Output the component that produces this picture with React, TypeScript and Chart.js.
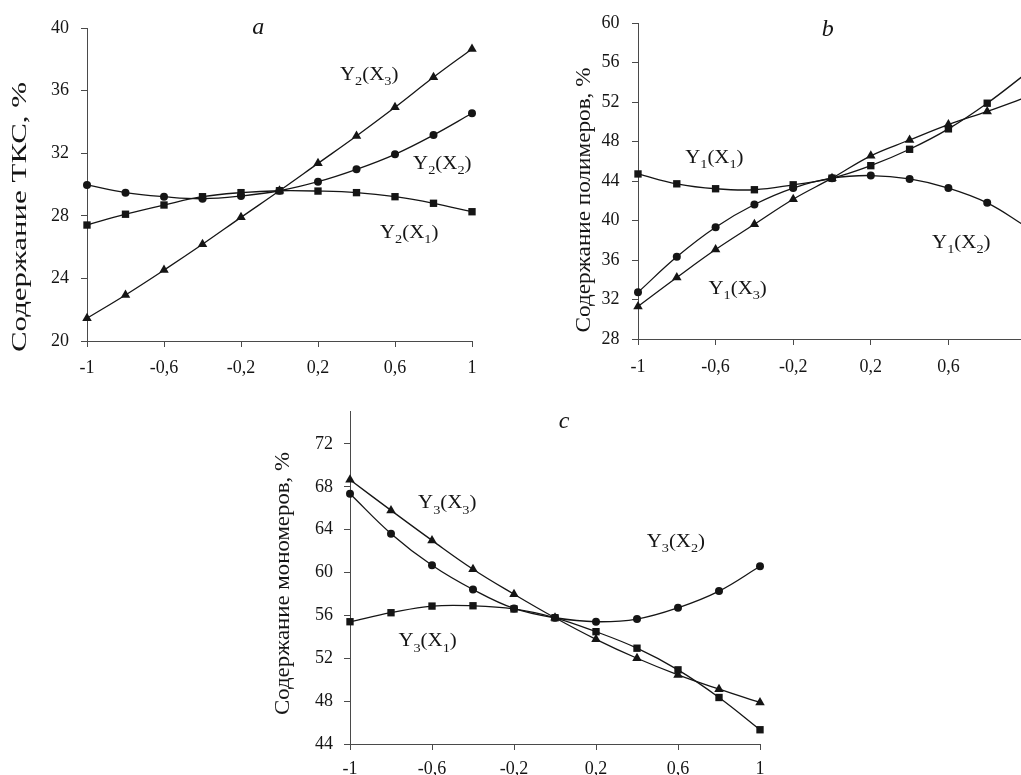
import React, { useEffect, useRef } from 'react';
import { Chart, registerables } from 'chart.js';

Chart.register(...registerables);

// ---------- data ----------
const X_VALUES = [-1, -0.8, -0.6, -0.4, -0.2, 0, 0.2, 0.4, 0.6, 0.8, 1];

// panel a: Содержание ТКС
const A_Y2_X1 = [27.41, 28.1, 28.69, 29.22, 29.48, 29.6, 29.58, 29.48, 29.22, 28.8, 28.26];
const A_Y2_X2 = [29.97, 29.48, 29.22, 29.09, 29.26, 29.6, 30.18, 30.97, 31.93, 33.16, 34.55];
const A_Y2_X3 = [21.45, 22.94, 24.53, 26.18, 27.9, 29.6, 31.35, 33.1, 34.93, 36.85, 38.66];

// panel b: Содержание полимеров
const B_Y1_X1 = [44.73, 43.73, 43.23, 43.13, 43.63, 44.3, 45.57, 47.23, 49.3, 51.9, 54.9];
const B_Y1_X2 = [32.73, 36.33, 39.33, 41.63, 43.3, 44.3, 44.57, 44.23, 43.3, 41.8, 39.4];
const B_Y1_X3 = [31.3, 34.23, 37.07, 39.63, 42.17, 44.3, 46.57, 48.17, 49.73, 51.07, 52.5];

// panel c: Содержание мономеров
const C_Y3_X1 = [55.41, 56.25, 56.87, 56.9, 56.6, 55.78, 54.48, 52.94, 50.92, 48.34, 45.33];
const C_Y3_X2 = [67.35, 63.63, 60.68, 58.42, 56.65, 55.78, 55.41, 55.66, 56.71, 58.27, 60.59];
const C_Y3_X3 = [68.65, 65.8, 63.0, 60.31, 57.98, 55.78, 53.77, 52.0, 50.45, 49.12, 47.88];

// axis ranges / titles
const A_Y_RANGE = [20, 40];
const B_Y_RANGE = [28, 60];
const C_Y_RANGE = [44, 75];
const Y_STEP = 4;
const X_STEP = 0.4;
const A_TITLE = 'Содержание ТКС, %';
const B_TITLE = 'Содержание полимеров, %';
const C_TITLE = 'Содержание мономеров, %';

// curve labels: [Y index, X index, x, y] (data coordinates)
const A_LABELS: [string, string, number, number][] = [
  ['2', '3', 0.314, 37.1],
  ['2', '2', 0.694, 31.4],
  ['2', '1', 0.522, 27.0],
];
const B_LABELS: [string, string, number, number][] = [
  ['1', '1', -0.757, 46.5],
  ['1', '2', 0.516, 37.9],
  ['1', '3', -0.637, 33.2],
];
const C_LABELS: [string, string, number, number][] = [
  ['3', '3', -0.668, 66.57],
  ['3', '2', 0.447, 63.0],
  ['3', '1', -0.764, 53.7],
];
// panel letters: [letter, x, y]
const A_LETTER: [string, number, number] = ['a', -0.11, 40.05];
const B_LETTER: [string, number, number] = ['b', -0.022, 59.32];
const C_LETTER: [string, number, number] = ['c', 0.044, 74.07];

// ---------- styles ----------
const SERIF = '"Liberation Serif", "Times New Roman", serif';
const INK = '#151515';
const AXIS = '#4a4a4a';

type PanelSpec = {
  left: number; top: number; w: number; h: number;
  pad: { left: number; top: number; right: number; bottom: number };
  yW: number; xH: number; xPad: number; yPad: number;
  yRange: number[];
  series: number[][];
  labels: [string, string, number, number][];
  letter: [string, number, number];
  title: string; titleCx: number; titleCy: number; titleLen: number;
};

function fmtTick(v: number) {
  const r = Math.round(v * 10) / 10;
  return String(r).replace('.', ',');
}

function drawSubLabel(ctx: CanvasRenderingContext2D, px: number, py: number, ys: string, xs: string) {
  const size = 19;
  const sx = 1.1;
  const big = `${size}px ${SERIF}`;
  const small = `${Math.round(size * 0.66)}px ${SERIF}`;
  const parts: [string, string, number][] = [
    ['Y', big, 0],
    [ys, small, size * 0.28],
    ['(X', big, 0],
    [xs, small, size * 0.28],
    [')', big, 0],
  ];
  ctx.save();
  ctx.translate(px, py + size * 0.33);
  ctx.scale(sx, 1);
  ctx.fillStyle = INK;
  ctx.textBaseline = 'alphabetic';
  ctx.textAlign = 'left';
  let cx = 0;
  for (const [t, f, dy] of parts) {
    ctx.font = f;
    ctx.fillText(t, cx, dy);
    cx += ctx.measureText(t).width;
  }
  ctx.restore();
}

function makeTextPlugin(spec: PanelSpec) {
  return {
    id: 'panelText',
    afterDatasetsDraw(chart: any) {
      const { ctx, scales } = chart;
      const xs = scales.x;
      const ysc = scales.y;
      for (const [yi, xi, lx, ly] of spec.labels) {
        drawSubLabel(ctx, xs.getPixelForValue(lx), ysc.getPixelForValue(ly), yi, xi);
      }
      const [letter, gx, gy] = spec.letter;
      ctx.save();
      ctx.font = `italic 24px ${SERIF}`;
      ctx.fillStyle = INK;
      ctx.textAlign = 'center';
      ctx.textBaseline = 'middle';
      ctx.fillText(letter, xs.getPixelForValue(gx), ysc.getPixelForValue(gy));
      ctx.restore();
      ctx.save();
      ctx.font = `20px ${SERIF}`;
      const w = ctx.measureText(spec.title).width;
      ctx.translate(spec.titleCx, spec.titleCy);
      ctx.rotate(-Math.PI / 2);
      ctx.scale(spec.titleLen / w, 1);
      ctx.fillStyle = INK;
      ctx.textAlign = 'center';
      ctx.textBaseline = 'middle';
      ctx.fillText(spec.title, 0, 0);
      ctx.restore();
    },
  };
}

const STYLES = ['rect', 'circle', 'triangle'];
const RADII = [5.2, 4, 5.5];

function Panel({ spec }: { spec: PanelSpec }) {
  const ref = useRef<HTMLCanvasElement>(null);
  useEffect(() => {
    let chart: Chart | null = null;
    let cancelled = false;
    const build = () => {
      if (cancelled || !ref.current) return;
      const datasets = spec.series.map((vals, i) => ({
        label: `s${i}`,
        data: X_VALUES.map((x, j) => ({ x, y: vals[j] })),
        borderColor: INK,
        backgroundColor: INK,
        borderWidth: 1.3,
        pointStyle: STYLES[i] as any,
        pointRadius: RADII[i],
        pointBackgroundColor: INK,
        pointBorderColor: INK,
        pointBorderWidth: 0,
        tension: 0.4,
        clip: false as any,
      }));
      const tickFont = { family: SERIF, size: 18 };
      chart = new Chart(ref.current, {
        type: 'line',
        data: { datasets },
        plugins: [makeTextPlugin(spec)],
        options: {
          animation: false,
          responsive: false,
          devicePixelRatio: 1,
          layout: { padding: spec.pad },
          plugins: { legend: { display: false }, tooltip: { enabled: false } },
          scales: {
            x: {
              type: 'linear',
              min: -1,
              max: 1,
              ticks: {
                stepSize: X_STEP,
                callback: (v: any) => fmtTick(Number(v)),
                font: tickFont,
                color: INK,
                padding: spec.xPad,
                maxRotation: 0,
                autoSkip: false,
              },
              grid: { drawOnChartArea: false, drawTicks: true, tickLength: 6, color: AXIS, lineWidth: 1 },
              border: { color: AXIS, width: 1 },
              afterFit: (s: any) => { s.height = spec.xH; },
            },
            y: {
              type: 'linear',
              min: spec.yRange[0],
              max: spec.yRange[1],
              ticks: {
                stepSize: Y_STEP,
                includeBounds: false,
                font: tickFont,
                color: INK,
                padding: spec.yPad,
                callback: (v: any) => String(v),
              } as any,
              grid: { drawOnChartArea: false, drawTicks: true, tickLength: 6, color: AXIS, lineWidth: 1 },
              border: { color: AXIS, width: 1 },
              afterFit: (s: any) => { s.width = spec.yW; },
            },
          },
        } as any,
      });
    };
    const fonts = (document as any).fonts;
    if (fonts && fonts.load) {
      Promise.all([
        fonts.load(`20px "Liberation Serif"`),
        fonts.load(`italic 24px "Liberation Serif"`),
      ]).then(build, build);
    } else {
      build();
    }
    return () => {
      cancelled = true;
      if (chart) chart.destroy();
    };
  }, [spec]);
  return (
    <canvas
      ref={ref}
      width={spec.w}
      height={spec.h}
      style={{ position: 'absolute', left: spec.left, top: spec.top, width: spec.w, height: spec.h }}
    />
  );
}

const PANEL_A: PanelSpec = {
  left: 0, top: 0, w: 500, h: 390,
  pad: { left: 0, top: 28, right: 28, bottom: 0 },
  yW: 87, xH: 49, xPad: 10, yPad: 12,
  yRange: A_Y_RANGE,
  series: [A_Y2_X1, A_Y2_X2, A_Y2_X3],
  labels: A_LABELS,
  letter: A_LETTER,
  title: A_TITLE, titleCx: 20.5, titleCy: 217, titleLen: 270,
};

const PANEL_B: PanelSpec = {
  left: 540, top: 0, w: 520, h: 390,
  pad: { left: 0, top: 19, right: 34, bottom: 0 },
  yW: 98, xH: 51, xPad: 11.5, yPad: 12.5,
  yRange: B_Y_RANGE,
  series: [B_Y1_X1, B_Y1_X2, B_Y1_X3],
  labels: B_LABELS,
  letter: B_LETTER,
  title: B_TITLE, titleCx: 45, titleCy: 200, titleLen: 265,
};

const PANEL_C: PanelSpec = {
  left: 240, top: 390, w: 560, h: 400,
  pad: { left: 0, top: 20, right: 40, bottom: 0 },
  yW: 110, xH: 46, xPad: 8.5, yPad: 11,
  yRange: C_Y_RANGE,
  series: [C_Y3_X1, C_Y3_X2, C_Y3_X3],
  labels: C_LABELS,
  letter: C_LETTER,
  title: C_TITLE, titleCx: 44, titleCy: 193.5, titleLen: 263,
};

export default function App() {
  return (
    <div
      style={{
        position: 'absolute',
        left: 0,
        top: 0,
        width: 1021,
        height: 775,
        overflow: 'hidden',
        background: '#ffffff',
      }}
    >
      <Panel spec={PANEL_A} />
      <Panel spec={PANEL_B} />
      <Panel spec={PANEL_C} />
    </div>
  );
}
